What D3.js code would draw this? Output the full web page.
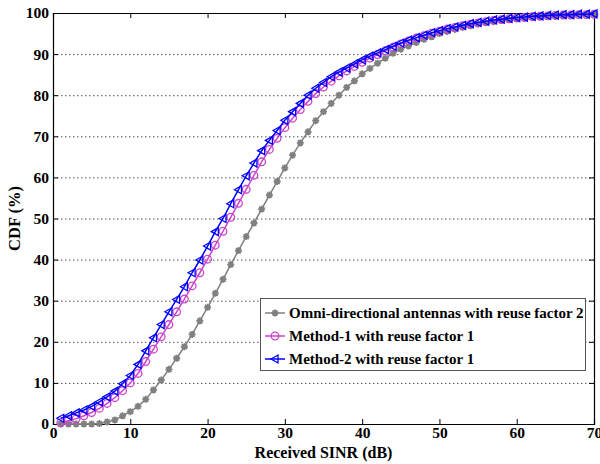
<!DOCTYPE html>
<html><head><meta charset="utf-8">
<script src="https://cdn.jsdelivr.net/npm/d3@7"></script>
<style>body{margin:0;background:#fff}svg{display:block}text{font-family:"Liberation Serif","Times New Roman",serif;font-weight:bold}</style>
</head><body>
<svg id="c" width="600" height="464"></svg>
<script>
const sinr = d3.range(1, 71);
const omni = [0,0,0,0,0,0.1,0.5,1.0,2.0,3.0,4.3,6.0,8.3,10.7,13.3,16.0,18.8,21.8,25.1,28.4,31.8,35.2,38.8,42.2,45.6,48.9,52.3,55.7,59.0,62.3,65.4,68.4,71.1,73.8,76.0,78.0,80.0,81.9,83.5,85.2,86.5,87.8,89.0,90.2,91.2,92.0,92.8,93.6,94.2,95.0,95.5,96.0,96.5,96.9,97.3,97.6,97.9,98.2,98.4,98.6,98.8,99.0,99.1,99.2,99.3,99.4,99.5,99.6,99.6,99.7];
const method1 = [0.3,0.8,1.3,2.0,2.8,3.8,5.0,6.4,8.1,10.0,12.3,15.2,18.2,21.2,24.2,27.3,30.4,33.6,36.8,40.1,43.5,46.9,50.3,53.7,57.1,60.5,63.8,66.8,69.5,72.1,74.4,76.5,78.5,80.4,82.0,83.4,84.7,85.9,87.0,88.0,89.0,89.9,90.8,91.7,92.5,93.2,93.9,94.5,95.1,95.6,96.1,96.5,96.9,97.3,97.6,97.9,98.2,98.4,98.6,98.8,98.9,99.1,99.2,99.3,99.4,99.5,99.5,99.6,99.6,99.7];
const method2 = [1.4,2.0,2.7,3.4,4.3,5.4,6.6,8.0,9.8,11.8,14.5,17.8,21.0,24.2,27.3,30.3,33.4,36.8,39.9,43.3,46.8,50.0,53.6,57.0,60.4,63.5,66.5,69.0,71.4,73.9,76.0,78.0,80.0,81.7,83.1,84.5,85.6,86.6,87.6,88.6,89.5,90.3,91.1,91.9,92.7,93.4,94.0,94.6,95.2,95.7,96.2,96.6,97.0,97.4,97.7,98.0,98.3,98.5,98.7,98.9,99.0,99.2,99.3,99.4,99.5,99.6,99.6,99.7,99.7,99.8];
const seriesNames = ["Omni-directional antennas with reuse factor 2","Method-1 with reuse factor 1","Method-2 with reuse factor 1"];
const xTicks = [0,10,20,30,40,50,60,70];
const yTicks = [0,10,20,30,40,50,60,70,80,90,100];

const svg = d3.select("#c");
const L = 53, R = 594, T = 13, B = 424;
const x = d3.scaleLinear().domain([0,70]).range([L,R]);
const y = d3.scaleLinear().domain([0,100]).range([B,T]);

// grid
svg.append("g").selectAll("line").data(yTicks.filter(v=>v>0&&v<100)).join("line")
  .attr("x1",L).attr("x2",R).attr("y1",d=>y(d)+0.5).attr("y2",d=>y(d)+0.5)
  .attr("stroke","#555").attr("stroke-width",1).attr("stroke-dasharray","1.5,2.5");

// axes
const ax = svg.append("g").attr("transform",`translate(0,${B})`).call(d3.axisBottom(x).tickValues(xTicks).tickSize(-5).tickPadding(3));
const ay = svg.append("g").attr("transform",`translate(${L},0)`).call(d3.axisLeft(y).tickValues(yTicks).tickSize(-5).tickPadding(4));
const axT = svg.append("g").attr("transform",`translate(0,${T})`).call(d3.axisTop(x).tickValues(xTicks).tickSize(-5).tickFormat(""));
const ayR = svg.append("g").attr("transform",`translate(${R},0)`).call(d3.axisRight(y).tickValues(yTicks).tickSize(-5).tickFormat(""));
[ax,ay,axT,ayR].forEach(g=>{g.select(".domain").attr("stroke","#000").attr("stroke-width",1.2);g.selectAll(".tick line").attr("stroke","#000");});
svg.selectAll(".tick text").attr("font-size",15.5).attr("font-family","Liberation Serif").attr("font-weight","bold").attr("fill","#000");

svg.append("text").attr("x",(L+R)/2).attr("y",458).attr("text-anchor","middle").attr("font-size",16).text("Received SINR (dB)");
svg.append("text").attr("transform",`translate(20,${(T+B)/2}) rotate(-90)`).attr("text-anchor","middle").attr("font-size",16.5).text("CDF (%)");

const line = d3.line().x((d,i)=>x(sinr[i])).y(d=>y(d));
const star = "M-3.5,0L3.5,0M0,-3.5L0,3.5M-2.5,-2.5L2.5,2.5M-2.5,2.5L2.5,-2.5";
const tri = "M-4,0L3,-4L3,4Z";
const cfg = [
  {data:omni,color:"#808080",marker:"star"},
  {data:method1,color:"#CC44CC",marker:"circle"},
  {data:method2,color:"#0000FF",marker:"tri"}
];
function drawMarker(g,type,color){
  if(type==="star") g.append("path").attr("d",star).attr("stroke",color).attr("stroke-width",1.8).attr("fill","none");
  else if(type==="circle") g.append("circle").attr("r",3.8).attr("stroke",color).attr("stroke-width",1.3).attr("fill","none");
  else g.append("path").attr("d",tri).attr("stroke",color).attr("stroke-width",1.3).attr("fill","none");
}
cfg.forEach(s=>{
  svg.append("path").datum(s.data).attr("d",line).attr("fill","none").attr("stroke",s.color).attr("stroke-width",1.5);
  const gs = svg.append("g");
  s.data.forEach((v,i)=>{
    const g = gs.append("g").attr("transform",`translate(${x(sinr[i])},${y(v)})`);
    drawMarker(g,s.marker,s.color);
  });
});

// legend
const lg = svg.append("g");
lg.append("rect").attr("x",260.5).attr("y",298.5).attr("width",325).attr("height",72).attr("fill","#fff").attr("stroke","#555").attr("stroke-width",1);
const rows = [313,336,359];
cfg.forEach((s,i)=>{
  lg.append("line").attr("x1",265).attr("x2",285).attr("y1",rows[i]).attr("y2",rows[i]).attr("stroke",s.color).attr("stroke-width",1.5);
  const g = lg.append("g").attr("transform",`translate(275,${rows[i]})`);
  drawMarker(g,s.marker,s.color);
  lg.append("text").attr("x",289).attr("y",rows[i]+5).attr("font-size",15).text(seriesNames[i]);
});
</script>
</body></html>
